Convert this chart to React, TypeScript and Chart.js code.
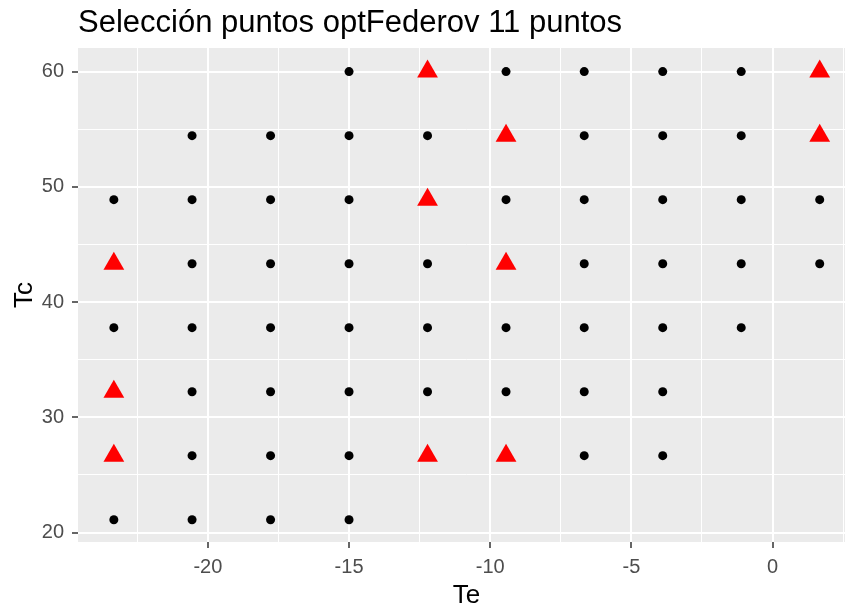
import React, { useEffect, useRef } from 'react';
import { Chart, registerables } from 'chart.js';

Chart.register(...registerables);

const TITLE = 'Selección puntos optFederov 11 puntos';
const X_LABEL = 'Te';
const Y_LABEL = 'Tc';

// Candidate grid (black points): Te values present at each Tc level
const tcLevels = [21.11, 26.67, 32.22, 37.78, 43.33, 48.89, 54.44, 60.0];
const teRow21 = [-23.33, -20.56, -17.78, -15.0];
const teRow27 = [-23.33, -20.56, -17.78, -15.0, -12.22, -9.44, -6.67, -3.89];
const teRow32 = [-23.33, -20.56, -17.78, -15.0, -12.22, -9.44, -6.67, -3.89];
const teRow38 = [-23.33, -20.56, -17.78, -15.0, -12.22, -9.44, -6.67, -3.89, -1.11];
const teRow43 = [-23.33, -20.56, -17.78, -15.0, -12.22, -9.44, -6.67, -3.89, -1.11, 1.67];
const teRow49 = [-23.33, -20.56, -17.78, -15.0, -12.22, -9.44, -6.67, -3.89, -1.11, 1.67];
const teRow54 = [-20.56, -17.78, -15.0, -12.22, -9.44, -6.67, -3.89, -1.11, 1.67];
const teRow60 = [-15.0, -12.22, -9.44, -6.67, -3.89, -1.11, 1.67];
const candRows = [teRow21, teRow27, teRow32, teRow38, teRow43, teRow49, teRow54, teRow60];

// Selected points (red triangles)
const selTe = [-23.33, -23.33, -23.33, -12.22, -9.44, -12.22, -9.44, -12.22, -9.44, 1.67, 1.67];
const selTc = [26.67, 32.22, 43.33, 26.67, 26.67, 48.89, 43.33, 60.0, 54.44, 60.0, 54.44];

// Axes
const xMajor = [-20, -15, -10, -5, 0];
const xMinor = [-22.5, -17.5, -12.5, -7.5, -2.5, 2.5];
const yMajor = [20, 30, 40, 50, 60];
const yMinor = [25, 35, 45, 55];
const xRange = [-24.6, 2.92];
const yRange = [19.18, 62.05];

const FONT = "'Liberation Sans', Arial, sans-serif";

export default function App() {
  const ref = useRef<HTMLCanvasElement | null>(null);

  useEffect(() => {
    if (!ref.current) return;
    const candPoints: { x: number; y: number }[] = [];
    candRows.forEach((row, i) => row.forEach((te) => candPoints.push({ x: te, y: tcLevels[i] })));
    const selPoints = selTe.map((te, i) => ({ x: te, y: selTc[i] }));

    const isMajorX = (v: number) => xMajor.includes(v);
    const isMajorY = (v: number) => yMajor.includes(v);

    const panelPlugin = {
      id: 'panel',
      beforeDraw(chart: any) {
        const { ctx, chartArea } = chart;
        ctx.save();
        ctx.fillStyle = '#EBEBEB';
        ctx.fillRect(chartArea.left, chartArea.top, chartArea.right - chartArea.left, chartArea.bottom - chartArea.top);
        ctx.restore();
      },
      afterDraw(chart: any) {
        const { ctx, chartArea } = chart;
        ctx.save();
        ctx.fillStyle = '#000000';
        ctx.font = `31px ${FONT}`;
        ctx.textAlign = 'left';
        ctx.textBaseline = 'alphabetic';
        ctx.fillText(TITLE, chartArea.left, 32);
        ctx.restore();
      },
    };

    const chart = new Chart(ref.current, {
      type: 'scatter',
      data: {
        datasets: [
          {
            data: selPoints,
            order: 1,
            pointStyle: 'triangle',
            pointRadius: 12,
            pointBackgroundColor: '#FF0000',
            pointBorderColor: '#FF0000',
            pointBorderWidth: 0,
          },
          {
            data: candPoints,
            order: 2,
            pointStyle: 'circle',
            pointRadius: 4.5,
            pointBackgroundColor: '#000000',
            pointBorderColor: '#000000',
            pointBorderWidth: 0,
          },
        ],
      },
      options: {
        animation: false,
        responsive: false,
        events: [],
        layout: { padding: { top: 48, right: 5, left: 0, bottom: 0 } },
        plugins: { legend: { display: false }, tooltip: { enabled: false }, title: { display: false } },
        scales: {
          x: {
            type: 'linear',
            min: xRange[0],
            max: xRange[1],
            afterBuildTicks: (scale: any) => {
              scale.ticks = [...xMajor, ...xMinor].sort((a, b) => a - b).map((v) => ({ value: v }));
            },
            afterFit: (scale: any) => {
              scale.height = 70;
            },
            border: { display: false },
            grid: {
              color: '#FFFFFF',
              lineWidth: (c: any) => (c.tick && isMajorX(c.tick.value) ? 2 : 1),
              drawTicks: true,
              tickLength: 6,
              tickWidth: 1.5,
              tickColor: (c: any) => (c.tick && isMajorX(c.tick.value) ? '#333333' : 'rgba(0,0,0,0)'),
            },
            ticks: {
              autoSkip: false,
              maxRotation: 0,
              padding: 7,
              color: '#4D4D4D',
              font: { family: FONT, size: 20 },
              callback: (v: any) => (isMajorX(Number(v)) ? String(v) : ''),
            },
            title: {
              display: true,
              text: X_LABEL,
              color: '#000000',
              font: { family: FONT, size: 26, lineHeight: 1 },
              padding: { top: 0, bottom: 3 },
            },
          },
          y: {
            type: 'linear',
            min: yRange[0],
            max: yRange[1],
            afterBuildTicks: (scale: any) => {
              scale.ticks = [...yMajor, ...yMinor].sort((a, b) => a - b).map((v) => ({ value: v }));
            },
            afterFit: (scale: any) => {
              scale.width = 78;
            },
            border: { display: false },
            grid: {
              color: '#FFFFFF',
              lineWidth: (c: any) => (c.tick && isMajorY(c.tick.value) ? 2 : 1),
              drawTicks: true,
              tickLength: 6,
              tickWidth: 1.5,
              tickColor: (c: any) => (c.tick && isMajorY(c.tick.value) ? '#333333' : 'rgba(0,0,0,0)'),
            },
            ticks: {
              autoSkip: false,
              padding: 8,
              color: '#4D4D4D',
              font: { family: FONT, size: 20 },
              callback: (v: any) => (isMajorY(Number(v)) ? String(v) : ''),
            },
            title: {
              display: true,
              text: Y_LABEL,
              color: '#000000',
              font: { family: FONT, size: 26, lineHeight: 1 },
              padding: { top: 12, bottom: 0 },
            },
          },
        },
      },
      plugins: [panelPlugin],
    } as any);

    return () => chart.destroy();
  }, []);

  return (
    <div style={{ position: 'fixed', left: 0, top: 0, width: 845, height: 612, overflow: 'hidden', background: '#FFFFFF' }}>
      <canvas ref={ref} width={867} height={612} style={{ display: 'block' }} />
    </div>
  );
}
